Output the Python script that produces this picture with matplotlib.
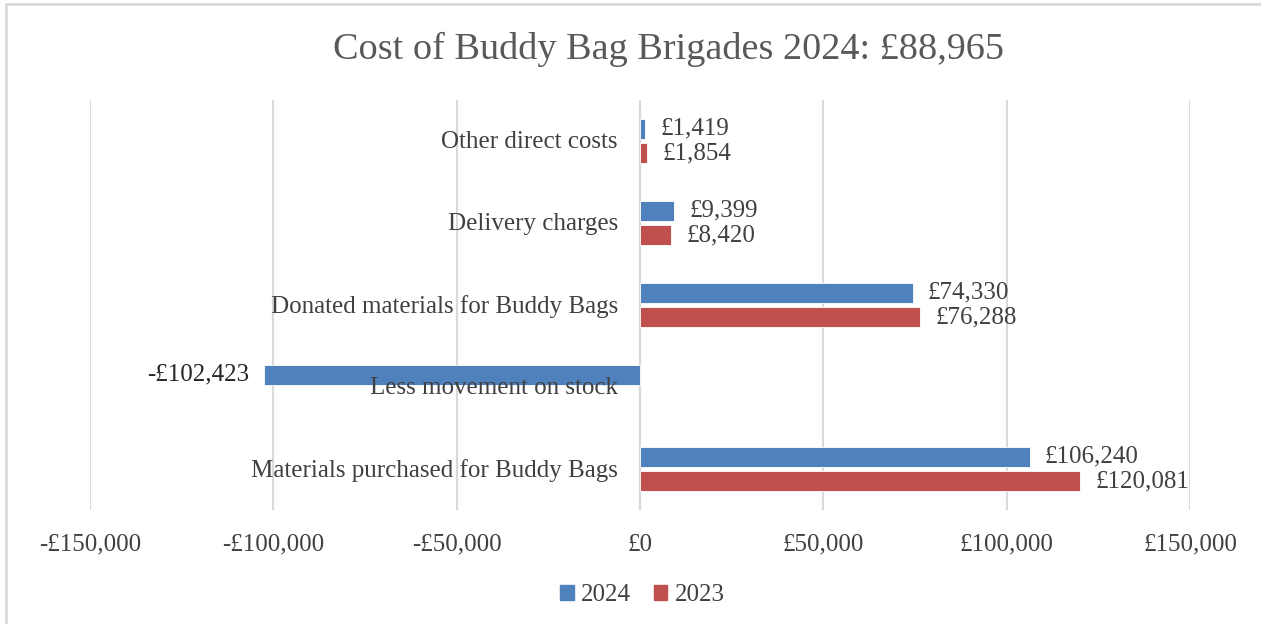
import numpy as np
import matplotlib.pyplot as plt
from matplotlib.patches import Rectangle

# data (bottom to top, as drawn)
categories = ["Materials purchased for Buddy Bags", "Less movement on stock",
              "Donated materials for Buddy Bags", "Delivery charges", "Other direct costs"]
values_2024 = [106240, -102423, 74330, 9399, 1419]
values_2023 = [120081, None, 76288, 8420, 1854]
xticks = [-150000, -100000, -50000, 0, 50000, 100000, 150000]

blue = "#4F81BD"
red = "#C0504D"
txt = "#404040"
fs = 18

plt.rcParams['font.family'] = ['Liberation Serif', 'DejaVu Serif']

def money(v):
    return ("-£{:,.0f}" if v < 0 else "£{:,.0f}").format(abs(v))

fig = plt.figure(figsize=(12.61, 6.24), dpi=100)
ax = fig.add_axes([90/1261, 1 - 510/624, 1100/1261, 410/624])

y = np.arange(len(categories))
h = 0.244
off = 0.152

for i in range(len(categories)):
    v = values_2024[i]
    ax.barh(y[i] + off, v, height=h, color=blue, edgecolor="white", linewidth=0.6, zorder=3)
    ax.annotate(money(v), (v, y[i] + off), xytext=(11 if v > 0 else -11, 0),
                textcoords="offset points", ha="left" if v > 0 else "right",
                va="center", fontsize=fs, color=txt if v > 0 else "#262626")
    v = values_2023[i]
    if v is not None:
        ax.barh(y[i] - off, v, height=h, color=red, edgecolor="white", linewidth=0.6, zorder=3)
        ax.annotate(money(v), (v, y[i] - off), xytext=(11, 0), textcoords="offset points",
                    ha="left", va="center", fontsize=fs, color=txt)
    ax.annotate(categories[i], (0, y[i]), xytext=(-16, -1), textcoords="offset points",
                ha="right", va="center", fontsize=fs, color=txt, zorder=4)

ax.set_xlim(-150000, 150000)
ax.set_ylim(-0.5, 4.5)
ax.set_xticks(xticks)
ax.set_xticklabels([money(t) for t in xticks], fontsize=fs, color=txt)
ax.tick_params(axis="x", length=0, pad=17)
ax.set_yticks([])
ax.grid(axis="x", color="#d9d9d9", linewidth=1.5, zorder=0)
ax.axvline(0, color="#d9d9d9", linewidth=1.5, zorder=1)
for s in ax.spines.values():
    s.set_visible(False)

fig.text(0.53, 1 - 49/624, "Cost of Buddy Bag Brigades 2024: £88,965", ha="center",
         va="center", fontsize=27.5, color="#595959")

handles = [Rectangle((0, 0), 1, 1, color=blue), Rectangle((0, 0), 1, 1, color=red)]
fig.legend(handles, ["2024", "2023"], loc="center", bbox_to_anchor=(0.5095, 1 - 595/624),
           ncol=2, frameon=False, fontsize=fs, handlelength=0.55, handleheight=0.55,
           handletextpad=0.3, columnspacing=0.9, labelcolor=txt)

fig.patches.append(Rectangle((6/1261, -0.1), 1.2, 1 - 4/624 + 0.1, fill=False,
                             edgecolor="#d9d9d9", linewidth=2, transform=fig.transFigure))

fig.savefig("out.png", dpi=100)
